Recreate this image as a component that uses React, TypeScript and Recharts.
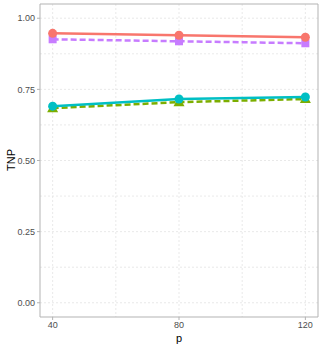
import React from "react";
import { LineChart, Line, XAxis, YAxis, CartesianGrid, ReferenceArea } from "recharts";

const pValues = [40, 80, 120];
const redSeries = [0.947, 0.940, 0.933];
const purpleSeries = [0.926, 0.919, 0.912];
const cyanSeries = [0.691, 0.716, 0.723];
const greenSeries = [0.684, 0.705, 0.716];
const xTicks = [40, 80, 120];
const yTicks = [0, 0.25, 0.5, 0.75, 1.0];
const xGrid = [40, 60, 80, 100, 120];
const yGrid = [0, 0.125, 0.25, 0.375, 0.5, 0.625, 0.75, 0.875, 1.0];

const data = pValues.map((p, i) => ({
  p,
  red: redSeries[i],
  purple: purpleSeries[i],
  cyan: cyanSeries[i],
  green: greenSeries[i],
}));

const Circle = (color: string) => (props: any) => {
  const { cx, cy, index } = props;
  return <circle key={`c${color}${index}`} cx={cx} cy={cy} r={4.5} fill={color} />;
};
const Square = (color: string) => (props: any) => {
  const { cx, cy, index } = props;
  return <rect key={`s${color}${index}`} x={cx - 4} y={cy - 4} width={8} height={8} fill={color} />;
};
const Triangle = (color: string) => (props: any) => {
  const { cx, cy, index } = props;
  return (
    <path
      key={`t${color}${index}`}
      d={`M${cx},${cy - 6} L${cx + 5.5},${cy + 4} L${cx - 5.5},${cy + 4} Z`}
      fill={color}
    />
  );
};

const font = "'Liberation Sans', Arial, Helvetica, sans-serif";

const YLabel = () => (
  <text x={11} y={160} transform="rotate(-90 11 160)" textAnchor="middle" dominantBaseline="central" fontSize={11} fill="#000" fontFamily={font}>
    TNP
  </text>
);

export default function App() {
  return (
    <div style={{ position: "absolute", left: 0, top: 0, width: 319, height: 348, background: "#fff" }}>
      <LineChart
        width={319}
        height={348}
        data={data}
        margin={{ top: 4, right: 1, bottom: 0, left: 0 }}
        style={{ fontFamily: font }}
      >
        <CartesianGrid
          stroke="#e3e3e3"
          strokeDasharray="2 2"
          horizontalValues={yGrid}
          verticalValues={xGrid}
          strokeWidth={0.8}
        />
        <XAxis
          dataKey="p"
          type="number"
          domain={[36, 124]}
          ticks={xTicks}
          allowDataOverflow
          axisLine={false}
          tickSize={3}
          tickLine={{ stroke: "#b3b3b3" }}
          tick={{ fill: "#4d4d4d", fontSize: 9 }}
          height={31}
          label={{ value: "p", position: "insideBottom", offset: 6, fill: "#000", fontSize: 11 }}
        />
        <YAxis
          type="number"
          domain={[-0.05, 1.05]}
          ticks={yTicks}
          allowDataOverflow
          axisLine={false}
          tickSize={3}
          tickLine={{ stroke: "#b3b3b3" }}
          tick={{ fill: "#4d4d4d", fontSize: 9 }}
          tickFormatter={(v: number) => v.toFixed(2)}
          width={40}
          label={<YLabel />}
        />
        <ReferenceArea x1={36} x2={124} y1={-0.05} y2={1.05} fill="none" stroke="#b3b3b3" strokeWidth={1} ifOverflow="visible" />
        <Line
          dataKey="purple"
          stroke="#C77CFF"
          strokeWidth={2.5}
          strokeDasharray="6 3"
          dot={Square("#C77CFF")}
          isAnimationActive={false}
        />
        <Line
          dataKey="red"
          stroke="#F8766D"
          strokeWidth={2.5}
          dot={Circle("#F8766D")}
          isAnimationActive={false}
        />
        <Line
          dataKey="green"
          stroke="#7CAE00"
          strokeWidth={2.5}
          strokeDasharray="6 3"
          dot={Triangle("#7CAE00")}
          isAnimationActive={false}
        />
        <Line
          dataKey="cyan"
          stroke="#00BFC4"
          strokeWidth={2.5}
          dot={Circle("#00BFC4")}
          isAnimationActive={false}
        />
      </LineChart>
    </div>
  );
}
